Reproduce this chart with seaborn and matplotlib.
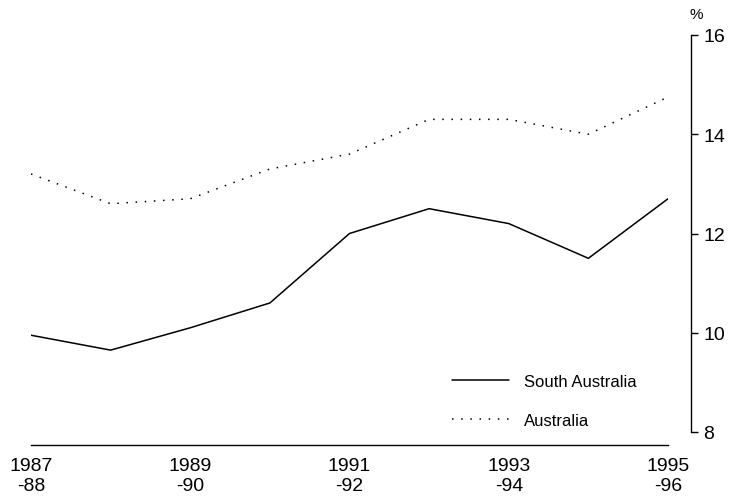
import matplotlib
matplotlib.use("Agg")
import matplotlib.pyplot as plt
import seaborn as sns
import pandas as pd
from matplotlib.lines import Line2D

years = ["1987-88", "1988-89", "1989-90", "1990-91", "1991-92",
         "1992-93", "1993-94", "1994-95", "1995-96"]
south_australia = [9.95, 9.65, 10.1, 10.6, 12.0, 12.5, 12.2, 11.5, 12.7]
australia = [13.2, 12.6, 12.7, 13.3, 13.6, 14.3, 14.3, 14.0, 14.75]
tick_labels = ["1987\n-88", "1989\n-90", "1991\n-92", "1993\n-94", "1995\n-96"]
y_ticks = [8, 10, 12, 14, 16]

sns.set_theme(style="white")
plt.rcParams['font.family'] = ['Liberation Sans', 'DejaVu Sans']
plt.rcParams['text.color'] = 'black'
plt.rcParams['xtick.color'] = 'black'
plt.rcParams['ytick.color'] = 'black'

df = pd.DataFrame({
    "idx": list(range(len(years))) * 2,
    "value": south_australia + australia,
    "series": ["South Australia"] * len(years) + ["Australia"] * len(years),
})

fig = plt.figure(figsize=(7.36, 5.02), dpi=100)
ax = fig.add_axes([31/736, 1-433/502, 637/736, 397/502])

sns.lineplot(data=df, x="idx", y="value", hue="series", style="series",
             palette={"South Australia": "black", "Australia": "black"},
             dashes={"South Australia": "", "Australia": (1, 5)},
             linewidth=1.1, ax=ax, legend=False)

ax.set_xlim(0, 8)
ax.set_ylim(8, 16)
ax.set_xlabel("")
ax.set_ylabel("")

ax.yaxis.tick_right()
for s in ["top", "left"]:
    ax.spines[s].set_visible(False)
ax.spines["right"].set_position(("outward", 16.5))
ax.spines["bottom"].set_position(("outward", 9))
for s in ["right", "bottom"]:
    ax.spines[s].set_color("black")
    ax.spines[s].set_linewidth(1.0)

ax.set_xticks([0, 2, 4, 6, 8])
ax.set_xticklabels(tick_labels, linespacing=1.2)
ax.set_yticks(y_ticks)
ax.set_yticklabels([str(v) for v in y_ticks])

ax.tick_params(axis="x", direction="in", length=6, width=1, color="black",
               pad=9, labelsize=14, labelcolor="black")
ax.tick_params(axis="y", direction="out", length=5, width=1, color="black",
               pad=4, right=True, left=False, labelsize=14, labelcolor="black")

ax.text(1.045, 1.035, "%", transform=ax.transAxes, fontsize=11, ha="center", va="bottom")

handles = [Line2D([], [], color="black", lw=1.1),
           Line2D([], [], color="black", lw=1.1, linestyle=(0, (1, 5)))]
ax.legend(handles, ["South Australia", "Australia"], frameon=False,
          fontsize=12, handlelength=3.4, handletextpad=0.9, labelspacing=1.45,
          loc="upper left", bbox_to_anchor=((437-31)/637, 1-(360-36)/397))

fig.savefig("out.png", dpi=100)
